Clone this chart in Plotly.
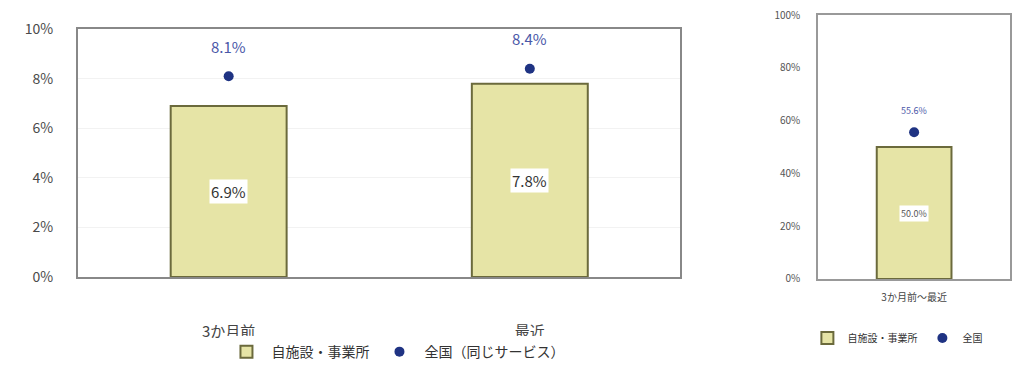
import plotly.graph_objects as go

# Left chart data
categories_left = ["3か月前", "最近"]
own_left = [0.069, 0.078]
national_left = [0.081, 0.084]

# Right chart data
categories_right = ["3か月前～最近"]
own_right = [0.50]
national_right = [0.556]

left_ticks = [0, 0.02, 0.04, 0.06, 0.08, 0.10]
right_ticks = [0, 0.2, 0.4, 0.6, 0.8, 1.0]

FONT = "Noto Sans CJK JP"
BAR_FILL = "#e6e4a6"
BAR_LINE = "#6b6a3c"
DOT = "#1f3383"
DOT_TEXT = "#4a58a8"
TICK = "#555555"

fig = go.Figure()

fig.add_trace(go.Bar(x=categories_left, y=own_left, name="自施設・事業所",
                     marker=dict(color=BAR_FILL, line=dict(color=BAR_LINE, width=2)),
                     width=0.385, xaxis="x", yaxis="y", legend="legend"))
fig.add_trace(go.Scatter(x=categories_left, y=national_left, name="全国（同じサービス）",
                         mode="markers", marker=dict(color=DOT, size=10),
                         xaxis="x", yaxis="y", legend="legend"))

fig.add_trace(go.Bar(x=categories_right, y=own_right, name="自施設・事業所",
                     marker=dict(color=BAR_FILL, line=dict(color=BAR_LINE, width=2)),
                     width=0.39, xaxis="x2", yaxis="y2", legend="legend2"))
fig.add_trace(go.Scatter(x=categories_right, y=national_right, name="全国",
                         mode="markers", marker=dict(color=DOT, size=10),
                         xaxis="x2", yaxis="y2", legend="legend2"))

annotations = []
for c, v in zip(categories_left, own_left):
    annotations.append(dict(x=c, y=v / 2, xref="x", yref="y", text=f"{v*100:.1f}%",
                            showarrow=False, bgcolor="white",
                            font=dict(family=FONT, size=15, color="#333333")))
for c, v in zip(categories_left, national_left):
    annotations.append(dict(x=c, y=v, xref="x", yref="y", text=f"{v*100:.1f}%",
                            showarrow=False, yshift=30,
                            font=dict(family=FONT, size=15, color=DOT_TEXT)))
for c, v in zip(categories_right, own_right):
    annotations.append(dict(x=c, y=v / 2, xref="x2", yref="y2", text=f"{v*100:.1f}%",
                            showarrow=False, bgcolor="white",
                            font=dict(family=FONT, size=9, color="#555555")))
for c, v in zip(categories_right, national_right):
    annotations.append(dict(x=c, y=v, xref="x2", yref="y2", text=f"{v*100:.1f}%",
                            showarrow=False, yshift=22,
                            font=dict(family=FONT, size=9, color=DOT_TEXT)))

fig.update_layout(
    width=1014, height=369,
    margin=dict(l=0, r=0, t=0, b=0),
    paper_bgcolor="white", plot_bgcolor="white",
    font=dict(family=FONT, color=TICK),
    showlegend=True,
    annotations=annotations,
    xaxis=dict(domain=[0.077, 0.671], showline=True, mirror=True, linecolor="#888888",
               linewidth=2, ticks="", tickfont=dict(size=15, color="#444444"),
               ticklabelstandoff=40, anchor="y", automargin=False),
    yaxis=dict(domain=[0.249, 0.921], range=[0, 0.10], tickvals=left_ticks,
               tickformat=".0%", showline=True, mirror=True, linecolor="#888888",
               linewidth=2, showgrid=True, gridcolor="#f2f2f2",
               tickfont=dict(size=14, color="#4a4a4a"), ticklabelstandoff=20, anchor="x",
               automargin=False),
    xaxis2=dict(domain=[0.807, 0.996], showline=True, mirror=True, linecolor="#999999",
                linewidth=2, ticks="", tickfont=dict(size=10, color="#444444"),
                ticklabelstandoff=8, anchor="y2", automargin=False),
    yaxis2=dict(domain=[0.244, 0.959], range=[0, 1.0], tickvals=right_ticks,
                tickformat=".0%", showline=True, mirror=True, linecolor="#999999",
                linewidth=2, showgrid=False,
                tickfont=dict(size=10, color=TICK), ticklabelstandoff=14, anchor="x2",
                automargin=False),
    legend=dict(orientation="h", x=0.39, xanchor="center", y=0.046, yanchor="middle",
                font=dict(size=14, color="#333333"), itemwidth=40),
    legend2=dict(orientation="h", x=0.885, xanchor="center", y=0.084, yanchor="middle",
                 font=dict(size=10, color="#333333"), itemwidth=30),
)

fig.write_html("out.html")
